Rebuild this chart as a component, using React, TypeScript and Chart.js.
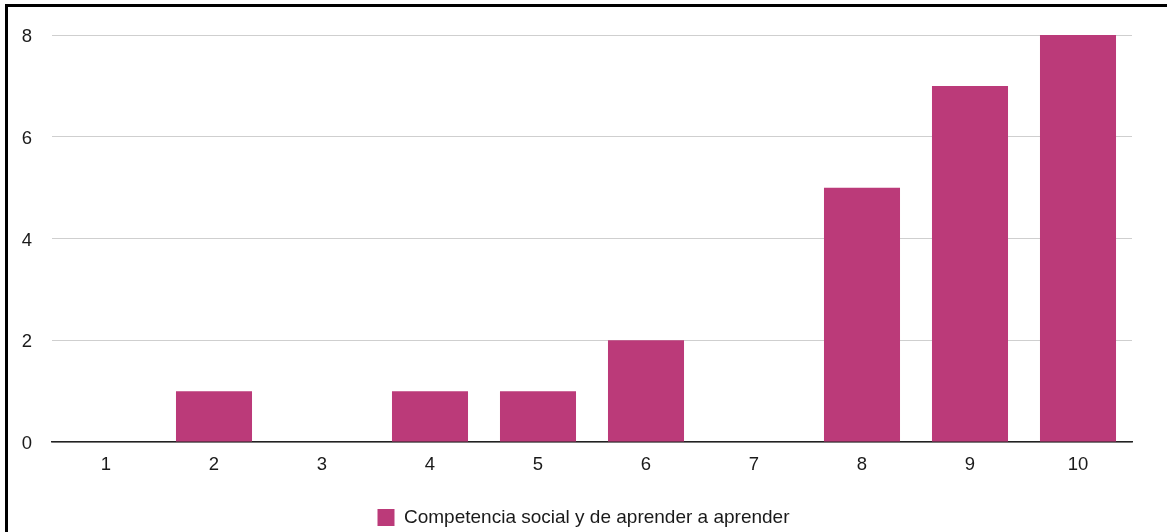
import React, { useEffect, useRef } from "react";
import { Chart, registerables } from "chart.js";

Chart.register(...registerables);

const categories = ["1", "2", "3", "4", "5", "6", "7", "8", "9", "10"];
const seriesName = "Competencia social y de aprender a aprender";
const seriesValues = [0, 1, 0, 1, 1, 2, 0, 5, 7, 8];
const yTicks = [0, 2, 4, 6, 8];

const FONT = "'Liberation Sans', Arial, Helvetica, sans-serif";

export default function App() {
  const ref = useRef<HTMLCanvasElement | null>(null);

  useEffect(() => {
    const canvas = ref.current;
    if (!canvas) return;
    const chart = new Chart(canvas, {
      type: "bar",
      data: {
        labels: categories,
        datasets: [
          {
            label: seriesName,
            data: seriesValues,
            backgroundColor: "#bb3a79",
            borderWidth: 0,
            categoryPercentage: 0.8,
            barPercentage: 0.88,
          },
        ],
      },
      options: {
        responsive: false,
        animation: false,
        devicePixelRatio: 1,
        layout: { padding: { left: 0, right: 0, top: 35, bottom: 0 } },
        plugins: {
          tooltip: { enabled: false },
          legend: {
            display: true,
            position: "bottom",
            labels: {
              boxWidth: 17,
              boxHeight: 17,
              padding: 10,
              color: "#1a1a1a",
              font: { family: FONT, size: 19 },
            },
          },
        },
        scales: {
          x: {
            afterFit: (axis: any) => {
              axis.height = 56;
            },
            grid: { display: false, drawTicks: false },
            border: { display: true, color: "#222", width: 1.5 },
            ticks: {
              color: "#1a1a1a",
              padding: 12,
              font: { family: FONT, size: 18.5 },
            },
          },
          y: {
            min: 0,
            max: 8,
            afterBuildTicks: (axis: any) => {
              axis.ticks = yTicks.map((v) => ({ value: v }));
            },
            afterFit: (axis: any) => {
              axis.width = 52;
            },
            grid: { color: "#cfcfcf", lineWidth: 1, drawTicks: false },
            border: { display: false },
            ticks: {
              color: "#1a1a1a",
              padding: 20,
              labelOffset: 2,
              font: { family: FONT, size: 18.5 },
            },
          },
          yRight: {
            type: "linear",
            position: "right",
            display: true,
            afterFit: (axis: any) => {
              axis.width = 35;
            },
            grid: { display: false, drawTicks: false },
            border: { display: false },
            ticks: { display: false },
          },
        },
      },
    });
    return () => chart.destroy();
  }, []);

  return (
    <div
      style={{
        position: "absolute",
        left: 0,
        top: 0,
        width: 1167,
        height: 532,
        overflow: "hidden",
        background: "#fff",
      }}
    >
      <canvas
        ref={ref}
        width={1167}
        height={537}
        style={{ position: "absolute", left: 0, top: 0, width: 1167, height: 537 }}
      />
      <div
        style={{
          position: "absolute",
          left: 5,
          top: 4,
          width: 1200,
          height: 600,
          border: "3px solid #000",
          boxSizing: "border-box",
          pointerEvents: "none",
        }}
      />
    </div>
  );
}
